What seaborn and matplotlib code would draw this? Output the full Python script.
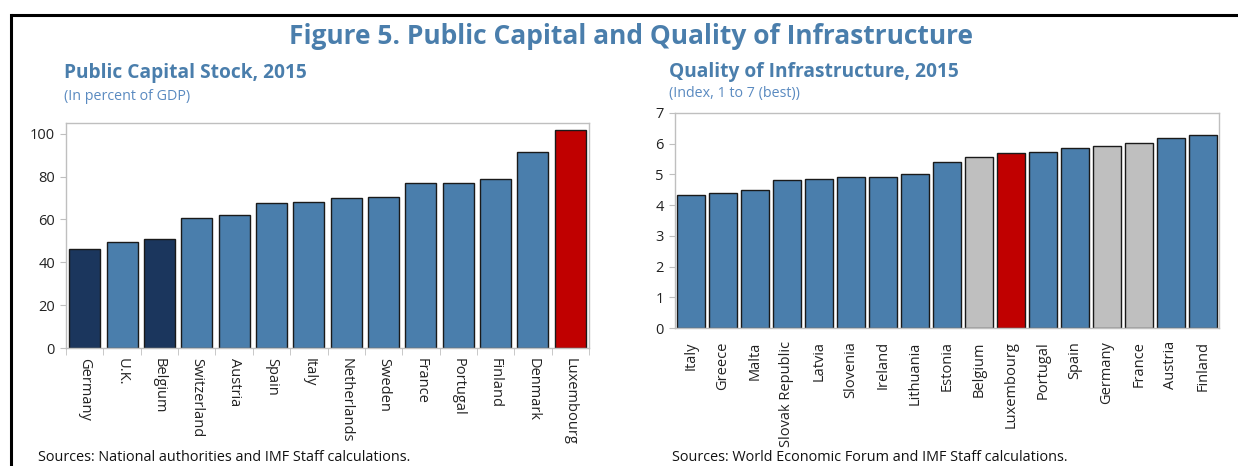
import matplotlib
matplotlib.use("Agg")
import matplotlib.pyplot as plt
import seaborn as sns
import pandas as pd
import numpy as np
from matplotlib.lines import Line2D

# ---- data ----
cap_countries = ["Germany", "U.K.", "Belgium", "Switzerland", "Austria", "Spain", "Italy",
                 "Netherlands", "Sweden", "France", "Portugal", "Finland", "Denmark", "Luxembourg"]
cap_values = [46.0, 49.5, 51.0, 60.5, 62.0, 67.5, 68.0, 70.0, 70.3, 77.0, 77.0, 79.0, 91.5, 101.5]
cap_groups = ["dark", "blue", "dark", "blue", "blue", "blue", "blue",
              "blue", "blue", "blue", "blue", "blue", "blue", "red"]

inf_countries = ["Italy", "Greece", "Malta", "Slovak Republic", "Latvia", "Slovenia", "Ireland",
                 "Lithuania", "Estonia", "Belgium", "Luxembourg", "Portugal", "Spain", "Germany",
                 "France", "Austria", "Finland"]
inf_values = [4.33, 4.40, 4.48, 4.83, 4.85, 4.93, 4.93, 5.03, 5.40, 5.58, 5.70, 5.72, 5.85,
              5.93, 6.03, 6.20, 6.30]
inf_groups = ["blue", "blue", "blue", "blue", "blue", "blue", "blue", "blue", "blue", "gray",
              "red", "blue", "blue", "gray", "gray", "blue", "blue"]

colors = {"blue": "#4A7EAC", "dark": "#1B365D", "red": "#C00000", "gray": "#BFBFBF"}
TITLE_BLUE = "#4A7EAC"
SUB_BLUE = "#5A8AC0"

sns.set_style("white")
plt.rcParams["font.family"] = ["Open Sans", "DejaVu Sans"]

fig = plt.figure(figsize=(12.38, 4.66), dpi=100)

df1 = pd.DataFrame({"country": cap_countries, "value": cap_values, "group": cap_groups})
df2 = pd.DataFrame({"country": inf_countries, "value": inf_values, "group": inf_groups})

W, H = 1238, 466
def rect(l, t, r, b):
    return [l / W, 1 - b / H, (r - l) / W, (b - t) / H]

ax1 = fig.add_axes(rect(66, 123, 589, 348))
ax2 = fig.add_axes(rect(675, 113, 1219, 328))

for ax, df, w in ((ax1, df1, 0.83), (ax2, df2, 0.85)):
    sns.barplot(data=df, x="country", y="value", hue="group", palette=colors,
                dodge=False, legend=False, ax=ax, width=w,
                edgecolor="#1a1a1a", linewidth=1.0, saturation=1)
    ax.set_xlabel("")
    ax.set_ylabel("")
    for s in ax.spines.values():
        s.set_visible(True)
        s.set_color("#BFBFBF")
        s.set_linewidth(1.0)
    ax.tick_params(axis="y", which="both", left=True, length=4, color="#BFBFBF",
                   labelsize=10.5, labelcolor="#222222", pad=4)

n1 = len(cap_countries)
ax1.set_xlim(-0.5, n1 - 0.5)
ax1.set_ylim(0, 105)
ax1.set_yticks([0, 20, 40, 60, 80, 100])
ax1.set_xticks(range(n1))
ax1.set_xticklabels(cap_countries, rotation=-90, ha="center", va="top")
ax1.tick_params(axis="x", which="major", bottom=False, labelsize=10.5, labelcolor="#222222", pad=4)
ax1.set_xticks(np.arange(-0.5, n1, 1.0), minor=True)
ax1.tick_params(axis="x", which="minor", bottom=True, length=5, color="#BFBFBF")

n2 = len(inf_countries)
ax2.set_xlim(-0.5, n2 - 0.5)
ax2.set_ylim(0, 7)
ax2.set_yticks(range(0, 8))
ax2.set_xticks(range(n2))
ax2.set_xticklabels(inf_countries, rotation=90, ha="center", va="top")
ax2.tick_params(axis="x", which="major", bottom=False, labelsize=10.5, labelcolor="#222222", pad=6)

# titles
fig.text(631 / W, 1 - 37 / H, "Figure 5. Public Capital and Quality of Infrastructure",
         ha="center", va="center", fontsize=19, fontweight="bold", color=TITLE_BLUE)
fig.text(64 / W, 1 - 73 / H, "Public Capital Stock, 2015", ha="left", va="center",
         fontsize=13.8, fontweight="bold", color=TITLE_BLUE)
fig.text(64 / W, 1 - 96 / H, "(In percent of GDP)", ha="left", va="center",
         fontsize=10.3, color=SUB_BLUE)
fig.text(669 / W, 1 - 72 / H, "Quality of Infrastructure, 2015", ha="left", va="center",
         fontsize=13.8, fontweight="bold", color=TITLE_BLUE)
fig.text(669 / W, 1 - 94 / H, "(Index, 1 to 7 (best))", ha="left", va="center",
         fontsize=10.3, color=SUB_BLUE)

fig.text(38 / W, 1 - 465 / H, "Sources: National authorities and IMF Staff calculations.",
         ha="left", va="bottom", fontsize=10.4, color="#111111")
fig.text(672 / W, 1 - 465 / H, "Sources: World Economic Forum and IMF Staff calculations.",
         ha="left", va="bottom", fontsize=10.4, color="#111111")

# frame (left and top edges only)
fig.add_artist(Line2D([11 / W, 11 / W], [0, 1 - 15 / H], color="black", lw=2.2,
                      solid_capstyle="projecting", transform=fig.transFigure))
fig.add_artist(Line2D([11 / W, 1.0], [1 - 15 / H, 1 - 15 / H], color="black", lw=2.2,
                      solid_capstyle="butt", transform=fig.transFigure))

fig.savefig("out.png", dpi=100)
